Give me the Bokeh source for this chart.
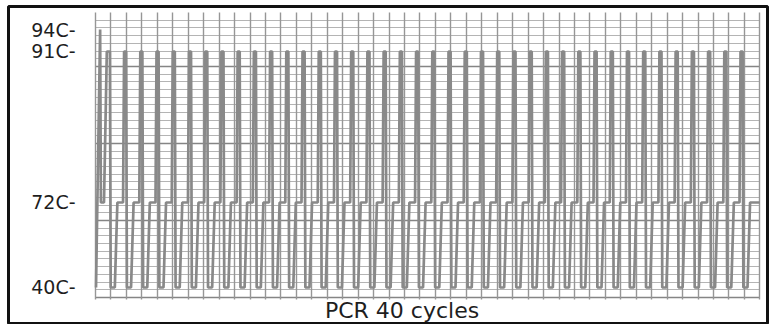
import numpy as np
from bokeh.plotting import figure
from bokeh.models import Range1d, Grid, SingleIntervalTicker, ColumnDataSource
from bokeh.core.properties import value
from bokeh.embed import file_html
from bokeh.resources import INLINE

# ---------------- data ----------------
title_text = "PCR 40 cycles"
temp_tick_labels = ["94C-", "91C-", "72C-", "40C-"]
temp_ticks = [94, 91, 72, 40]

# chart-recorder calibration: temperature (C) -> pen position (paper divisions)
calib_temp = [40, 72, 91, 94]
calib_div = [1.3, 12.34, 31.95, 34.8]

chart_speed_s_per_div = 60          # one vertical paper division = 60 s

# start of the run: (time s, temperature C) break points
start_times = [2, 18, 21, 33, 44]
start_temps = [40, 94, 72, 72, 91]

# thermal cycling program
n_cycles = 40
step_temps = [91, 40, 72]           # denature, anneal, extend
step_hold_s = [8, 16, 22]           # hold at each step
step_ramp_s = [3, 10, 4]            # ramp to the next step
first_denature_s = 48
final_hold_end_s = 2580

# ---------------- build the recorded profile ----------------
times = list(start_times)
temps = list(start_temps)
t = first_denature_s
for c in range(n_cycles):
    for i, temp in enumerate(step_temps):
        times.append(t)
        temps.append(temp)
        t += step_hold_s[i]
        last = (c == n_cycles - 1 and i == len(step_temps) - 1)
        if last:
            times.append(final_hold_end_s)
            temps.append(temp)
        else:
            times.append(t)
            temps.append(temp)
            t += step_ramp_s[i]

x = np.array(times, dtype=float) / chart_speed_s_per_div
y = np.interp(np.array(temps, dtype=float), calib_temp, calib_div)
src = ColumnDataSource(dict(x=x, y=y))

# ---------------- figure ----------------
p = figure(width=772, height=324,
           x_range=Range1d(-5.631, 43.495), y_range=Range1d(-3.377, 37.792),
           x_axis_location=None, y_axis_location=None,
           toolbar_location=None, output_backend="svg",
           min_border_left=8, min_border_top=6, min_border_right=5, min_border_bottom=1)
p.xgrid.visible = False
p.ygrid.visible = False
p.background_fill_color = "white"
p.border_fill_color = "white"
p.outline_line_color = "#111111"
p.outline_line_width = 3

# chart paper grid
h_minor = Grid(dimension=1, ticker=SingleIntervalTicker(interval=1),
               bounds=(0, 36), cross_bounds=(0, 43),
               grid_line_color="#b4b4b4", grid_line_width=1)
h_major = Grid(dimension=1, ticker=SingleIntervalTicker(interval=10),
               bounds=(0, 30), cross_bounds=(0, 43),
               grid_line_color="#858585", grid_line_width=1.3)
v_grid = Grid(dimension=0, ticker=SingleIntervalTicker(interval=1),
              bounds=(0, 43), cross_bounds=(-0.26, 37.0),
              grid_line_color="#969696", grid_line_width=1.4)
p.add_layout(h_minor)
p.add_layout(h_major)
p.add_layout(v_grid)

# temperature trace
p.line("x", "y", source=src, line_color="#898989", line_width=2.7)

# temperature labels
label_y = np.interp(np.array(temp_ticks, dtype=float), calib_temp, calib_div)
p.text(x=[-1.29] * len(temp_tick_labels), y=label_y, text=temp_tick_labels,
       text_align="right", text_baseline="middle",
       text_font=value("DejaVu Sans"), text_font_size="19px", text_color="#1e1e1e")

# caption
p.text(x=[19.84], y=[-1.69], text=[title_text], text_align="center",
       text_baseline="middle", text_font=value("DejaVu Sans"),
       text_font_size="22px", text_color="#1e1e1e")

open("out.html", "w").write(file_html(p, INLINE))
